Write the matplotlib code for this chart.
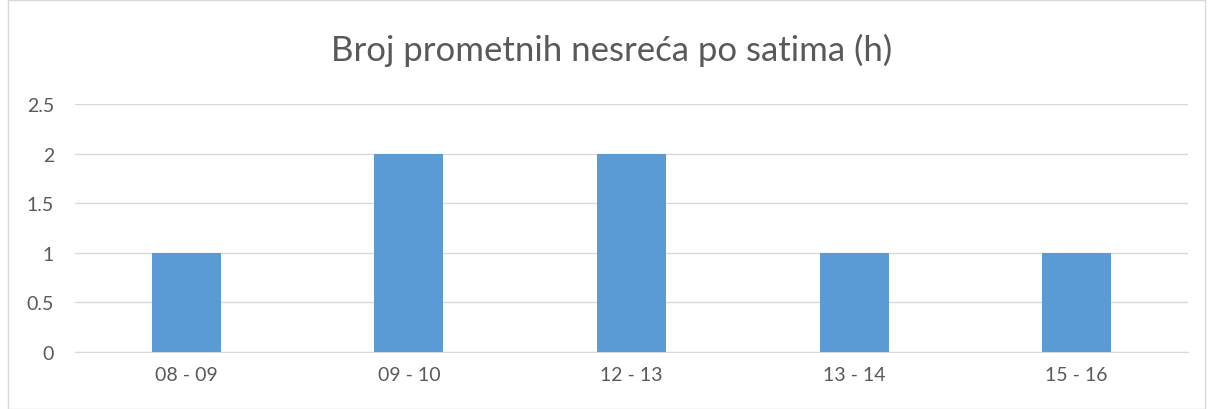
import matplotlib
matplotlib.use("Agg")
import matplotlib.pyplot as plt
from matplotlib.patches import Rectangle

categories = ["08 - 09", "09 - 10", "12 - 13", "13 - 14", "15 - 16"]
values = [1, 2, 2, 1, 1]
yticks = [0, 0.5, 1, 1.5, 2, 2.5]
ytick_labels = ["0", "0.5", "1", "1.5", "2", "2.5"]
title = "Broj prometnih nesreća po satima (h)"

plt.rcParams['font.family'] = ['Lato', 'DejaVu Sans']
W, H = 1213, 410
fig = plt.figure(figsize=(W/100, H/100), dpi=100)
ax = fig.add_axes([75/W, 1-353/H, (1188-75)/W, (353-105)/H])

x = list(range(len(categories)))
ax.bar(x, values, width=0.31, color="#5b9bd5", zorder=3)
ax.set_xlim(-0.5, len(categories)-0.5)
ax.set_ylim(0, 2.5)
ax.set_yticks(yticks)
ax.set_yticklabels(ytick_labels)
ax.set_xticks(x)
ax.set_xticklabels(categories)
ax.grid(axis='y', color="#d9d9d9", linewidth=1, zorder=0)
for s in ['top', 'right', 'left']:
    ax.spines[s].set_visible(False)
ax.spines['bottom'].set_color("#d9d9d9")
ax.tick_params(axis='both', length=0, labelsize=14, colors="#595959")
ax.tick_params(axis='y', pad=15)
ax.tick_params(axis='x', pad=10)

fig.text(612/W, 1-50/H, title, ha='center', va='center', fontsize=25, color="#595959")
fig.patches.append(Rectangle((8/W, 0.5/H), (1205-8)/W, (409-0.5)/H, transform=fig.transFigure,
                             fill=False, edgecolor="#d9d9d9", linewidth=1))
fig.savefig("out.png", dpi=100)
